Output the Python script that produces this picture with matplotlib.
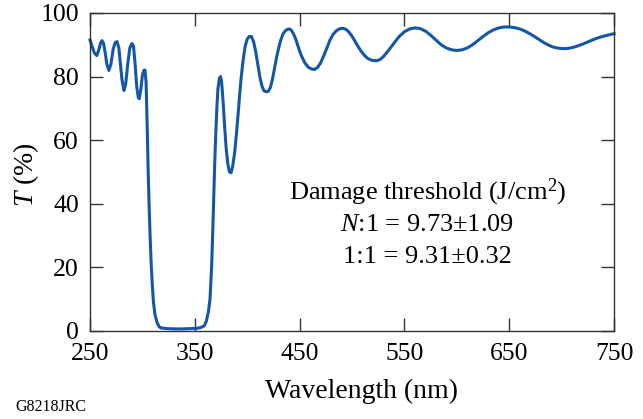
'''Transmission spectrum with damage threshold note'''

import numpy as np
import matplotlib.pyplot as plt

plt.rcParams['font.family'] = ['Liberation Serif', 'DejaVu Serif']
plt.rcParams['mathtext.fontset'] = 'custom'
plt.rcParams['mathtext.rm'] = 'Liberation Serif'
plt.rcParams['mathtext.it'] = 'Liberation Serif:italic'

# --- data (nm, %)
wavelength = [
    250, 252, 254, 256.5, 258.5, 260, 261.5, 263, 264.5, 266, 268, 270, 272, 274,
    275.8, 277.5, 279, 280.5, 282.4, 284, 286, 288, 290, 291.5, 293, 294.5, 296,
    297, 298.5, 300, 301.5, 302.5, 303.5, 304.5, 305.5, 306.5, 307.5, 308.5,
    309.5, 310.5, 312, 314, 316, 318, 325, 335, 345, 352, 356, 359, 361, 363,
    364.5, 366, 367, 368, 369, 370, 371, 372, 373.5, 374.5, 375.5, 377, 378.5,
    380, 381.5, 383, 384.5, 386, 388, 390, 392, 394, 396, 398, 400, 402, 404,
    406, 408, 410, 412, 414, 416, 418, 420, 422, 424, 426, 428, 430, 432, 434,
    436, 438, 440, 442, 444, 446, 448, 450, 452, 455, 458, 461, 464, 467, 470,
    473, 476, 479, 482, 485, 488, 491, 494, 497, 500, 503, 506, 509, 512, 515,
    518, 521, 524, 527, 530, 535, 540, 545, 550, 555, 560, 565, 570, 575, 580,
    585, 590, 595, 600, 605, 610, 615, 620, 625, 630, 635, 640, 645, 650, 655,
    660, 665, 670, 675, 680, 685, 690, 695, 700, 705, 710, 715, 720, 725, 730,
    735, 740, 745, 750]
transmission = [
    91.5, 89.5, 87.5, 86.6, 88.5, 90.5, 91.3, 90.3, 87.5, 84, 81.9, 84, 88.5, 90.7,
    91, 89, 84, 79, 75.6, 77.5, 84, 89, 90.4, 89.5, 84, 77, 73.5,
    73, 76, 80.5, 82, 82, 78, 65, 50, 38, 28, 20,
    14, 9, 5, 2.5, 1.2, 0.8, 0.6, 0.5, 0.6, 0.7, 1, 1.5, 3, 6,
    10, 20, 30, 42, 53, 62, 70, 76, 79.5, 80, 78.5, 72, 64,
    57, 52.5, 50, 49.7, 51.5, 56, 63, 71, 79, 85, 89.5, 91.8, 92.6, 92.6,
    91, 88, 84, 80, 77, 75.5, 75.2, 75.3, 76.5, 79, 82.5, 86, 89, 91.5, 93.3,
    94.3, 94.8, 95, 94.6, 93.5, 92, 90, 88, 86.3, 84.3, 83, 82.4, 82.2, 82.8, 84.3,
    86.5, 89, 91.5, 93.3, 94.4, 95, 95.2, 94.9, 94, 92.7, 91, 89.3, 87.8, 86.6, 85.7,
    85.2, 85, 85, 85.4, 86.3, 88.3, 90.5, 92.6, 94.1, 95, 95.3, 95.1, 94.3, 93, 91.5,
    90, 89, 88.4, 88.2, 88.4, 89, 90, 91.3, 92.6, 93.8, 94.7, 95.3, 95.6, 95.6, 95.4,
    95, 94.3, 93.4, 92.4, 91.3, 90.3, 89.5, 89, 88.8, 88.8, 89.1, 89.6, 90.2, 90.9, 91.6,
    92.2, 92.7, 93.1, 93.5]

xticks = [250, 350, 450, 550, 650, 750]
yticks = [0, 20, 40, 60, 80, 100]
note_lines = ['Damage threshold (J/cm$^2$)',
              '$N$:1 = 9.73\u00b11.09',
              '1:1 = 9.31\u00b10.32']

fig = plt.figure(figsize=(6.43, 4.19), dpi=100)
ax = fig.add_axes([0.140, 0.211, 0.815, 0.758])

ax.plot(wavelength, transmission, color='#1357a6', linewidth=2.2,
        solid_joinstyle='round', clip_on=False)

ax.set_xlim(250, 750)
ax.set_ylim(0, 100)
ax.set_xticks(xticks)
ax.set_yticks(yticks)
ax.tick_params(direction='in', top=True, right=True, length=9.5, width=1.0,
               color='#333333', labelsize=18.5, pad=8)
ax.tick_params(axis='x', pad=9)
for sp in ax.spines.values():
    sp.set_color('#333333')
    sp.set_linewidth(1.0)

ax.set_xlabel('Wavelength (nm)', size=20, va='center')
ax.xaxis.set_label_coords(0.519, -0.19)
ax.set_ylabel('$T$ (%)', size=20, va='center')
ax.yaxis.set_label_coords(-0.122, 0.49)

for i, line in enumerate(note_lines):
    ax.text(572, 43.4 - 10.1 * i, line, ha='center', va='center', size=19)

fig.text(15 / 643, 1 - 407 / 419, 'G8218JRC', ha='left', va='center', size=11.5)

fig.savefig('out.png', dpi=100)
